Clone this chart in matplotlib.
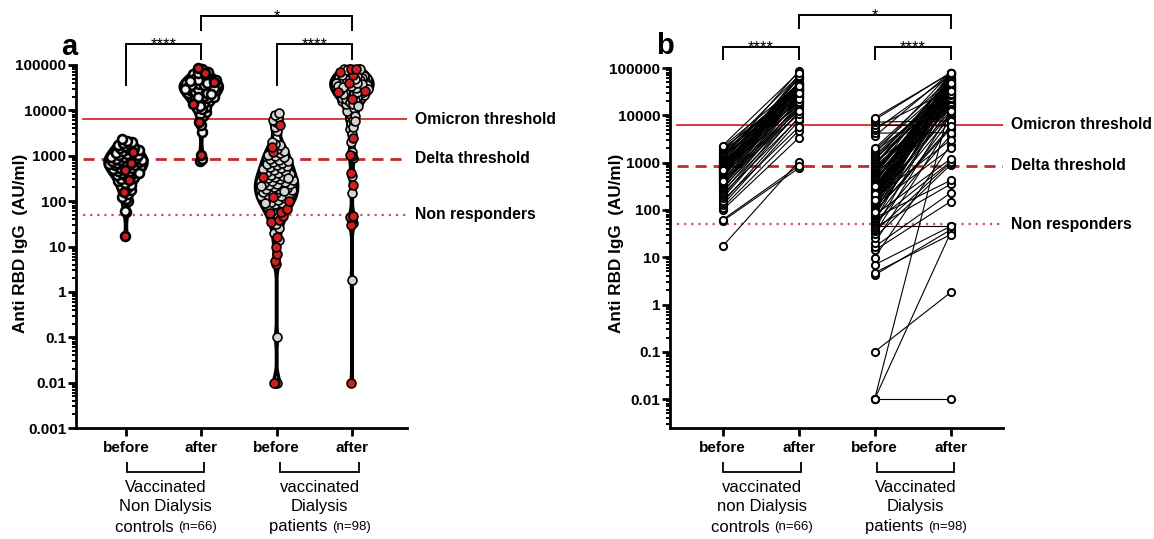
import numpy as np
import matplotlib
matplotlib.use('Agg')
import matplotlib.pyplot as plt
from matplotlib.transforms import blended_transform_factory
from matplotlib.lines import Line2D
from matplotlib.ticker import FixedLocator, FixedFormatter, LogLocator, NullFormatter

plt.rcParams['font.family'] = ['Liberation Sans', 'DejaVu Sans']

# ---------------- data ----------------
ctrl_before = [17, 58, 62, 100, 112, 126, 143, 158, 176, 193,
               214, 232, 248, 271, 295, 312, 334, 352, 371, 393,
               412, 428, 452, 468, 490, 512, 533, 548, 572, 595,
               612, 628, 653, 671, 694, 712, 733, 748, 772, 795,
               812, 836, 862, 893, 918, 954, 982, 1024, 1061, 1102,
               1148, 1205, 1254, 1310, 1385, 1452, 1518, 1604, 1695, 1810,
               1905, 2010, 2150, 2290, 418, 684]
ctrl_after = [1050, 760, 850, 3300, 4700, 7500, 9000, 5600, 12000, 15000,
              8500, 18000, 11000, 22000, 13700, 26000, 16000, 30000, 20000, 10500,
              34000, 24000, 14500, 38000, 66000, 28000, 19000, 42000, 32000, 23000,
              50000, 36000, 17000, 45000, 27000, 60000, 40000, 21000, 27500, 31000,
              70000, 44000, 25000, 24500, 48000, 35000, 62000, 29000, 19500, 47000,
              39000, 85000, 36500, 33000, 48000, 46000, 31500, 41000, 68000, 22500,
              37000, 29500, 44000, 80000, 12500, 42000]
ctrl_red = [0, 7, 14, 24, 51, 65]

dial_before = [0.01, 0.01, 0.01, 0.1, 4.2, 4.7, 6.9, 9.8, 14, 16.6,
               20, 26, 31, 35, 38, 42, 46, 51, 55, 58,
               63, 68, 73, 78, 83, 88, 93, 97, 101, 106,
               111, 117, 121, 127, 133, 139, 146, 152, 159, 166,
               173, 181, 189, 196, 206, 214, 226, 236, 244, 257,
               266, 277, 288, 301, 316, 332, 347, 362, 381, 398,
               421, 442, 461, 483, 504, 528, 561, 592, 618, 655,
               688, 732, 771, 818, 868, 922, 985, 1048, 1124, 1208,
               1296, 1412, 1548, 1702, 1855, 2010, 3600, 4200, 4800, 5500,
               6200, 7200, 8000, 8800, 212, 163, 318, 91]
dial_after = [0.01, 33, 18000, 1.8, 38, 30, 45, 2400, 150, 230,
              6500, 900, 12000, 1000, 25000, 350, 46, 3800, 1050, 40000,
              8000, 420, 30000, 1200, 15000, 45000, 5200, 22000, 60000, 9500,
              35000, 80000, 18000, 2000, 52000, 70000, 28000, 11000, 24000, 42000,
              37000, 3000, 24000, 36000, 55000, 16000, 75000, 38000, 21000, 48000,
              20000, 44000, 62000, 33000, 19000, 14000, 80000, 58000, 44000, 29000,
              26000, 17500, 17000, 36000, 22500, 51000, 50000, 80000, 40000, 25500,
              31000, 30000, 15500, 23000, 46000, 57000, 34000, 13500, 56000, 27000,
              39000, 41000, 80000, 28500, 47000, 60000, 80000, 4300, 70000, 34000,
              6000, 7600, 80000, 78000, 32000, 12500, 48000, 5800]
dial_red = [0, 4, 5, 6, 7, 9, 13, 14, 16, 18, 19, 21, 28, 32, 56, 79, 82, 88]

tick_names = ['before', 'after', 'before', 'after']
thresholds = [6300, 850, 50]
threshold_names = ['Omicron threshold', 'Delta threshold', 'Non responders']
groups_a = [['Vaccinated', 'Non Dialysis', 'controls ', '(n=66)'],
            ['vaccinated', 'Dialysis', 'patients ', '(n=98)']]
groups_b = [['vaccinated', 'non Dialysis', 'controls ', '(n=66)'],
            ['Vaccinated', 'Dialysis', 'patients ', '(n=98)']]
ytick_vals_a = [1e-3, 1e-2, 1e-1, 1, 10, 100, 1000, 10000, 100000]
ytick_lbls_a = ['0.001', '0.01', '0.1', '1', '10', '100', '1000', '10000', '100000']
ytick_vals_b = [1e-2, 1e-1, 1, 10, 100, 1000, 10000, 100000]
ytick_lbls_b = ['0.01', '0.1', '1', '10', '100', '1000', '10000', '100000']

# ---------------- figure ----------------
W, H = 1154, 539
fig = plt.figure(figsize=(W / 100, H / 100), dpi=100)

axa = fig.add_axes([76 / W, 1 - 428 / H, 331 / W, 363 / H])
axb = fig.add_axes([670 / W, 1 - 428 / H, 333 / W, 360 / H])

RED = '#d11f1f'
GRAY = '#d4d4d4'
TH_COL = ['#d42b2b', '#c8282a', '#d0505a']


def style_axis(ax, xlim, ylim, yvals, ylbls):
    ax.set_yscale('log')
    ax.set_xlim(*xlim)
    ax.set_ylim(*ylim)
    for s in ['top', 'right']:
        ax.spines[s].set_visible(False)
    for s in ['left', 'bottom']:
        ax.spines[s].set_linewidth(2.0)
    ax.yaxis.set_major_locator(FixedLocator(yvals))
    ax.yaxis.set_major_formatter(FixedFormatter(ylbls))
    ax.yaxis.set_minor_locator(LogLocator(base=10, subs=np.arange(2, 10), numticks=20))
    ax.yaxis.set_minor_formatter(NullFormatter())
    ax.tick_params(axis='y', which='major', length=5.5, width=2.0, pad=1.5,
                   labelsize=11)
    ax.tick_params(axis='y', which='minor', length=3, width=1.4)
    ax.set_xticks([0, 1, 2, 3])
    ax.set_xticklabels(tick_names)
    ax.tick_params(axis='x', which='major', length=5.5, width=2.0, pad=3.5,
                   labelsize=11)
    for lab in ax.get_xticklabels() + ax.get_yticklabels():
        lab.set_fontweight('bold')
    for y, name, col, ls, lw in zip(thresholds, threshold_names, TH_COL,
                                    ['-', (0, (4, 2.5)), (0, (1, 2.2))],
                                    [1.3, 2.0, 1.6]):
        ax.axhline(y, xmin=0.022, xmax=1.0, color=col, ls=ls, lw=lw, zorder=1)
        ax.text(1.025, y, name, transform=blended_transform_factory(ax.transAxes, ax.transData),
                ha='left', va='center', fontsize=11.3, fontweight='bold', clip_on=False)


style_axis(axa, (-0.664, 3.732), (1e-3, 1e5), ytick_vals_a, ytick_lbls_a)
style_axis(axb, (-0.692, 3.689), (10 ** -2.61, 1e5), ytick_vals_b, ytick_lbls_b)

# ---------------- panel a: violins with points ----------------
HALFW = 0.28
BW = 0.16


def violin(ax, x0, vals, red_idx, fill, mew):
    vals = np.asarray(vals, dtype=float)
    lv = np.log10(vals)
    g = np.linspace(lv.min(), lv.max(), 400)
    d = np.exp(-0.5 * ((g[:, None] - lv[None, :]) / BW) ** 2).sum(axis=1)
    w = HALFW * d / d.max()
    xs = np.concatenate([x0 + w, (x0 - w)[::-1]])
    ys = 10 ** np.concatenate([g, g[::-1]])
    ax.fill(xs, ys, facecolor='white', edgecolor='black', lw=2.5, zorder=2,
            joinstyle='round')
    order = np.argsort(lv, kind='stable')
    wi = np.interp(lv, g, w)
    phi = 0.6180339887
    xpos = np.empty(len(vals))
    for k, i in enumerate(order):
        s = ((k * phi) % 1.0) * 2 - 1
        xpos[i] = x0 + s * wi[i] * 0.82
    is_red = np.zeros(len(vals), bool)
    is_red[red_idx] = True
    ax.plot(xpos[~is_red], vals[~is_red], 'o', ms=6.4, mfc=fill, mec='black',
            mew=mew, zorder=3, clip_on=False)
    ax.plot(xpos[is_red], vals[is_red], 'o', ms=6.4, mfc=RED, mec='black',
            mew=mew, zorder=4, clip_on=False)


violin(axa, 0, ctrl_before, ctrl_red, '#f2f2f2', 1.9)
violin(axa, 1, ctrl_after, ctrl_red, '#f2f2f2', 1.9)
violin(axa, 2, dial_before, dial_red, GRAY, 1.2)
violin(axa, 3, dial_after, dial_red, GRAY, 1.2)

# ---------------- panel b: before-after ----------------
for x0, bef, aft in [(0, ctrl_before, ctrl_after), (2, dial_before, dial_after)]:
    for b, a in zip(bef, aft):
        axb.plot([x0, x0 + 1], [b, a], color='black', lw=0.8, zorder=2)
    axb.plot([x0] * len(bef), bef, 'o', ms=5.2, mfc='white', mec='black', mew=1.4,
             zorder=3, clip_on=False)
    axb.plot([x0 + 1] * len(aft), aft, 'o', ms=5.2, mfc='white', mec='black', mew=1.4,
             zorder=3, clip_on=False)


# ---------------- annotations ----------------
def fy(py):
    return 1 - py / H


def line(ax, xs, pys, lw=1.3):
    tr = blended_transform_factory(ax.transData, fig.transFigure)
    fig.add_artist(Line2D(xs, [fy(p) for p in pys], transform=tr, color='black',
                          lw=lw, solid_joinstyle='miter', solid_capstyle='butt'))


def text(ax, x, py, s, **kw):
    tr = blended_transform_factory(ax.transData, fig.transFigure)
    fig.text(x, fy(py), s, transform=tr, **kw)


# significance brackets
for ax, spec in [(axa, [(1, 3, 16, 31, 31, '*'), (0, 1, 44, 86, 60, '****'),
                        (2, 3, 44, 86, 60, '****')]),
                 (axb, [(1, 3, 15, 29, 29, '*'), (0, 1, 47, 60, 60, '****'),
                        (2, 3, 47, 60, 60, '****')])]:
    for x1, x2, top, l1, l2, s in spec:
        line(ax, [x1, x1, x2, x2], [l1, top, top, l2], lw=1.4)
        text(ax, (x1 + x2) / 2, top + 4.8, s, ha='center', va='baseline',
             fontsize=12)

# group brackets and labels below x axis
fig.canvas.draw()
renderer = fig.canvas.get_renderer()
for ax, groups, spans in [(axa, groups_a, [(0.01, 1.04), (2.05, 3.09)]),
                          (axb, groups_b, [(0.0, 1.03), (2.03, 3.05)])]:
    for (x1, x2), lines in zip(spans, groups):
        line(ax, [x1, x1, x2, x2], [462, 472, 472, 462], lw=1.3)
        xc = (x1 + x2) / 2
        text(ax, xc, 487, lines[0], ha='center', va='center', fontsize=12)
        text(ax, xc, 507, lines[1], ha='center', va='center', fontsize=12)
        # third line: mixed sizes
        t1 = fig.text(0, 0, lines[2], fontsize=12)
        t2 = fig.text(0, 0, lines[3], fontsize=9.5)
        w1 = t1.get_window_extent(renderer).width
        w2 = t2.get_window_extent(renderer).width
        t1.remove(); t2.remove()
        xc_px = ax.transData.transform((xc, 1))[0]
        start = xc_px - (w1 + w2) / 2
        fig.text(start / W, fy(527), lines[2], ha='left', va='center', fontsize=12)
        fig.text((start + w1) / W, fy(527), lines[3], ha='left', va='center', fontsize=9.5)

# y labels
fig.text(21 / W, fy(243), 'Anti RBD IgG  (AU/ml)', rotation=90, ha='center',
         va='center', fontsize=12.3, fontweight='bold')
fig.text(617 / W, fy(243), 'Anti RBD IgG  (AU/ml)', rotation=90, ha='center',
         va='center', fontsize=12.3, fontweight='bold')

# panel letters
fig.text(69 / W, fy(47), 'a', ha='center', va='center', fontsize=21, fontweight='bold')
fig.text(665 / W, fy(46), 'b', ha='center', va='center', fontsize=21, fontweight='bold')

fig.savefig('out.png', dpi=100)
